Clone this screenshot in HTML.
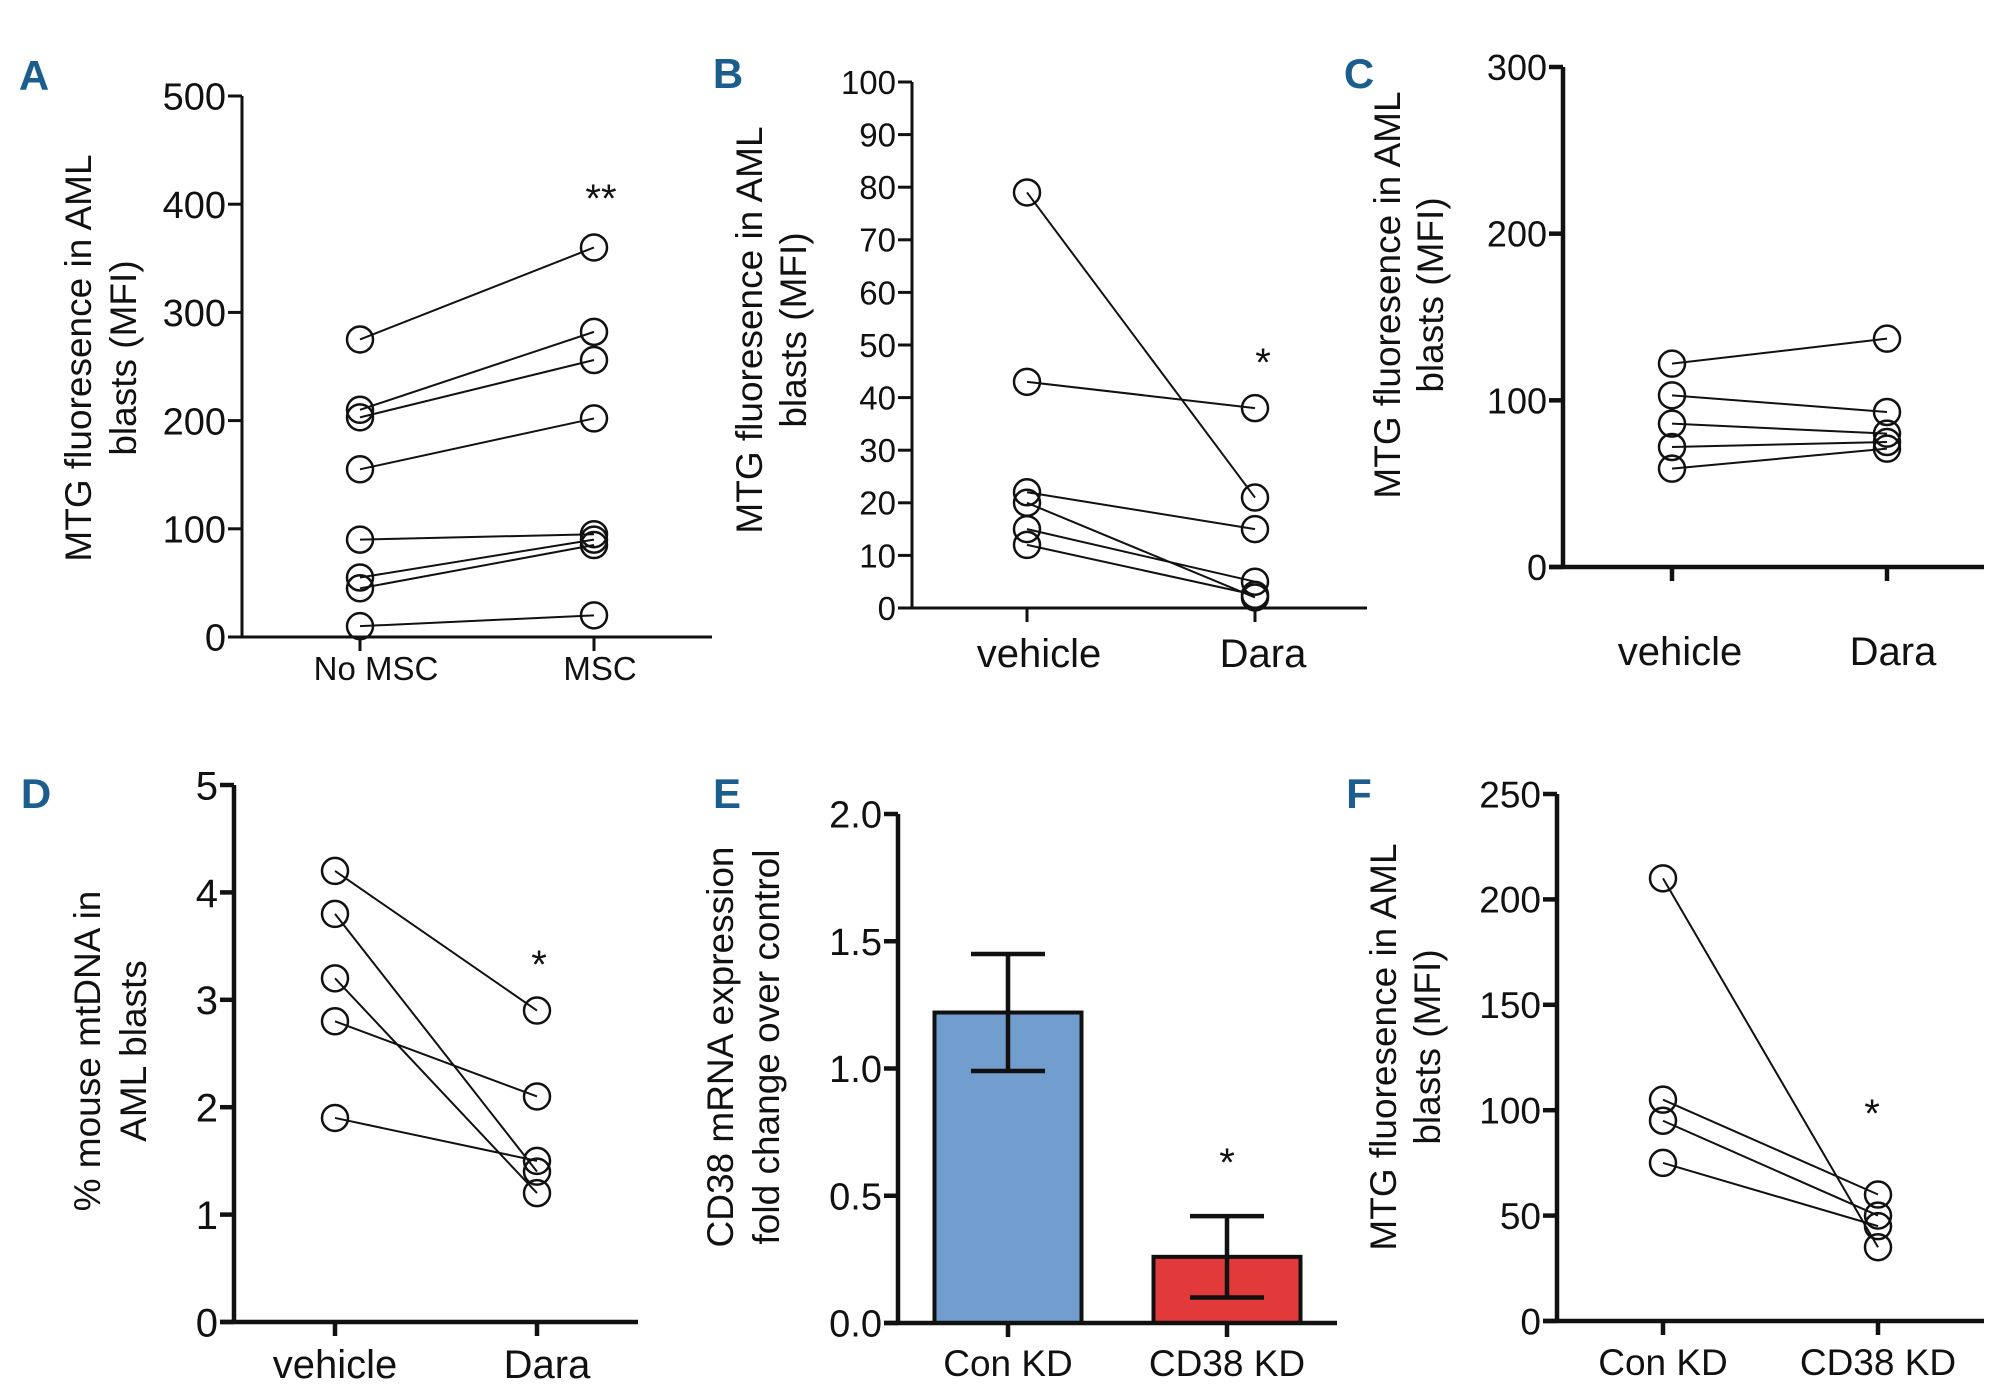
<!DOCTYPE html>
<html><head><meta charset="utf-8"><style>
html,body{margin:0;padding:0;background:#fff}
svg{display:block}
text{font-family:"Liberation Sans",Arial,sans-serif;fill:#111}
.pl{font-family:"Liberation Sans Narrow","Liberation Sans",sans-serif;font-weight:bold;fill:#1b5e8e;font-size:42px}
</style></head><body>
<svg id="fig" width="2000" height="1392" viewBox="0 0 2000 1392" xmlns="http://www.w3.org/2000/svg"></svg>
<script>
// Panel A data
const aCats=["No MSC","MSC"];
const aBefore=[275,210,203,155,90,55,45,10];
const aAfter=[360,282,256,202,95,90,85,20];
const aTicks=[0,100,200,300,400,500];
// Panel B data
const bCats=["vehicle","Dara"];
const bBefore=[79,43,22,20,15,12];
const bAfter=[21,38,15,2,5,2.5];
const bTicks=[0,10,20,30,40,50,60,70,80,90,100];
// Panel C data
const cCats=["vehicle","Dara"];
const cBefore=[122,103,86,72,59];
const cAfter=[137,93,80,75,71];
const cTicks=[0,100,200,300];
// Panel D data
const dCats=["vehicle","Dara"];
const dBefore=[4.2,3.8,3.2,2.8,1.9];
const dAfter=[2.9,1.4,1.2,2.1,1.5];
const dTicks=[0,1,2,3,4,5];
const dTickLabels=["0","1","2","3","4","5"];
// Panel E data
const eCats=["Con KD","CD38 KD"];
const eMeans=[1.22,0.26];
const eLow=[0.99,0.10];
const eHigh=[1.45,0.42];
const eTicks=[0,0.5,1.0,1.5,2.0];
const eTickLabels=["0.0","0.5","1.0","1.5","2.0"];
// Panel F data
const fCats=["Con KD","CD38 KD"];
const fBefore=[210,105,95,75];
const fAfter=[35,60,50,45];
const fTicks=[0,50,100,150,200,250];

const NS="http://www.w3.org/2000/svg";
const svg=document.getElementById('fig');
function mk(tag,attrs,parent,txt){const e=document.createElementNS(NS,tag);for(const k in attrs)e.setAttribute(k,attrs[k]);if(txt!==undefined)e.textContent=txt;(parent||svg).appendChild(e);return e;}

function axes(g,P,ticks,labels,cats){
  const y=v=>P.y0-(v-P.min)/(P.max-P.min)*(P.y0-P.yTop);
  const ax=mk('line',{x1:P.ax,y1:P.yTop,x2:P.ax,y2:P.y0,stroke:'#111','stroke-width':P.aw},g);
  
  
  const xa=mk('line',{x1:P.ax-14,y1:P.y0,x2:P.xEnd,y2:P.y0,stroke:'#111','stroke-width':P.aw},g);
  
  
  ticks.forEach((t,i)=>{
    const tk=mk('line',{x1:P.ax-14,y1:y(t),x2:P.ax,y2:y(t),stroke:'#111','stroke-width':P.aw},g);
    
    
    const tl=mk('text',{x:P.ax-16,y:y(t)+P.tf*0.36,'text-anchor':'end','font-size':P.tf},g,labels?labels[i]:String(t));
    
    
  });
  cats.forEach((c,i)=>{
    const cx=P.cx[i];
    const tk=mk('line',{x1:cx,y1:P.y0,x2:cx,y2:P.y0+14,stroke:'#111','stroke-width':P.aw},g);
    
    
    const tl=mk('text',{x:cx+(P.xoff?P.xoff[i]:0),y:P.xlY,'text-anchor':'middle','font-size':P.xf},g,c);
    
    
  });
  P.title.forEach((t,i)=>{
    const tx=P.tx[i];
    const tt=mk('text',{x:tx,y:P.ty,'text-anchor':'middle','font-size':P.titf,transform:`rotate(-90 ${tx} ${P.ty})`},g,t);
    
    
  });
  const lb=mk('text',{x:P.lx,y:P.ly,'class':'pl','text-anchor':'middle'},g,P.letter);
  
  
  if(P.star){const s=mk('text',{x:P.star[0],y:P.star[1],'text-anchor':'middle','font-size':40},g,P.star[2]);
    
    }
  return y;
}
function paired(P,before,after,ticks,labels,cats){
  const g=mk('g',{});
  
  
  const y=axes(g,P,ticks,labels,cats);
  before.forEach((b,i)=>{
    const ln=mk('line',{x1:P.cx[0],y1:y(b),x2:P.cx[1],y2:y(after[i]),stroke:'#111','stroke-width':2},g);
    
    
  });
  before.forEach((b,i)=>{
    [[P.cx[0],b],[P.cx[1],after[i]]].forEach(p=>{
      const c=mk('circle',{cx:p[0],cy:y(p[1]),r:P.r,fill:'none',stroke:'#111','stroke-width':2.5},g);
      
      
    });
  });
}
const T=["MTG fluoresence in AML","blasts (MFI)"];
paired({letter:'A',lx:34,ly:90,ax:242,yTop:96,y0:637,min:0,max:500,xEnd:712,cx:[360,594],aw:3,tf:38,xf:33,xlY:680,xoff:[16,6],titf:37,title:T,tx:[91,136],ty:358,r:13,star:[601,212,'**']},aBefore,aAfter,aTicks,null,aCats);
paired({letter:'B',lx:728,ly:88,ax:912,yTop:82,y0:608,min:0,max:100,xEnd:1367,cx:[1027,1255],aw:3,tf:33,xf:40,xlY:667,xoff:[12,8],titf:37,title:T,tx:[762,806],ty:330,r:13,star:[1263,376,'*']},bBefore,bAfter,bTicks,null,bCats);
paired({letter:'C',lx:1359,ly:88,ax:1563,yTop:67,y0:567,min:0,max:300,xEnd:1984,cx:[1672,1887],aw:4.5,tf:36,xf:40,xlY:665,xoff:[8,6],titf:37,title:T,tx:[1400,1443],ty:295,r:13},cBefore,cAfter,cTicks,null,cCats);
paired({letter:'D',lx:36,ly:808,ax:234,yTop:785,y0:1322,min:0,max:5,xEnd:638,cx:[335,537],aw:4.5,tf:40,xf:40,xlY:1378,xoff:[0,10],titf:37,title:["% mouse mtDNA in","AML blasts"],tx:[100,146],ty:1051,r:13,star:[539,978,'*']},dBefore,dAfter,dTicks,dTickLabels,dCats);
paired({letter:'F',lx:1359,ly:808,ax:1557,yTop:794,y0:1321,min:0,max:250,xEnd:1984,cx:[1663,1878],aw:4.5,tf:37,xf:37,xlY:1375,xoff:[0,0],titf:37,title:T,tx:[1396,1440],ty:1047,r:13,star:[1872,1127,'*']},fBefore,fAfter,fTicks,null,fCats);

// Panel E bar chart
(function(){
  const P={letter:'E',lx:727,ly:808,ax:898,yTop:814,y0:1323,min:0,max:2,xEnd:1337,cx:[1008,1227],aw:4.5,tf:38,xf:37,xlY:1376,xoff:[0,0],titf:37,title:["CD38 mRNA expression","fold change over control"],tx:[733,779],ty:1047,star:[1227,1176,'*']};
  const g=mk('g',{});
  
  
  const colors=['#719dcf','#e2393b'];
  const y=v=>P.y0-(v-P.min)/(P.max-P.min)*(P.y0-P.yTop);
  eMeans.forEach((m,i)=>{
    const w=147;
    const b=mk('rect',{x:P.cx[i]-w/2,y:y(m),width:w,height:P.y0-y(m),fill:colors[i],stroke:'#111','stroke-width':4},g);
    
    
    const e=mk('path',{d:`M${P.cx[i]},${y(eLow[i])}V${y(eHigh[i])}M${P.cx[i]-37},${y(eHigh[i])}H${P.cx[i]+37}M${P.cx[i]-37},${y(eLow[i])}H${P.cx[i]+37}`,stroke:'#111','stroke-width':4.5,fill:'none'},g);
    
    
  });
  axes(g,P,eTicks,eTickLabels,eCats);
})();
</script>
</body></html>
